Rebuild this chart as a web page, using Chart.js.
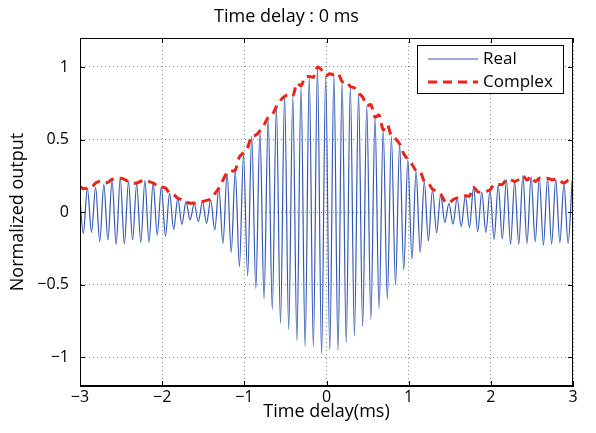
<!DOCTYPE html>
<html>
<head>
<meta charset="utf-8">
<script src="https://cdn.jsdelivr.net/npm/chart.js@4.4.1/dist/chart.umd.min.js"></script>
<style>
  html, body { margin: 0; padding: 0; background: #fff; }
</style>
</head>
<body>
<canvas id="myChart" width="596" height="433"></canvas>
<script>
const xTicks = [-3, -2, -1, 0, 1, 2, 3];
const yTicks = [-1, -0.5, 0, 0.5, 1];

// samples sit on every peak / trough of the carrier (half period 0.05 ms)
const tStart = -3.01;
const tStep = 0.05;

const realPeaks = [
  0.175, 0.163, 0.17, 0.19, 0.22, 0.232, 0.209, 0.193, 0.216, 0.202,
  0.175, 0.129, 0.094, 0.071, 0.06, 0.071, 0.083, 0.163, 0.267, 0.285,
  0.395, 0.524, 0.554, 0.653, 0.726, 0.795, 0.795, 0.869, 0.933, 1.0,
  0.938, 0.945, 0.899, 0.864, 0.818, 0.731, 0.653, 0.566, 0.52, 0.469,
  0.36, 0.28, 0.21, 0.155, 0.12, 0.06, 0.095, 0.11, 0.17, 0.135,
  0.15, 0.186, 0.221, 0.209, 0.25, 0.244, 0.232, 0.232, 0.225, 0.198,
  0.22
];
const realTroughs = [
  -0.147, -0.14, -0.205, -0.193, -0.223, -0.22, -0.193, -0.209, -0.209, -0.159,
  -0.166, -0.12, -0.085, -0.055, -0.067, -0.078, -0.124, -0.216, -0.278, -0.377,
  -0.441, -0.526, -0.6, -0.671, -0.768, -0.809, -0.887, -0.929, -0.929, -0.979,
  -0.952, -0.956, -0.901, -0.855, -0.791, -0.74, -0.667, -0.602, -0.503, -0.4,
  -0.326, -0.278, -0.198, -0.143, -0.071, -0.083, -0.101, -0.106, -0.136, -0.14,
  -0.188, -0.186, -0.221, -0.223, -0.216, -0.205, -0.228, -0.221, -0.212, -0.216
];
const complexEnv = [
  0.18, 0.16, 0.165, 0.17, 0.2, 0.21, 0.2, 0.205, 0.225, 0.23,
  0.232, 0.225, 0.21, 0.2, 0.2, 0.212, 0.218, 0.21, 0.2, 0.18,
  0.172, 0.165, 0.13, 0.12, 0.095, 0.085, 0.072, 0.06, 0.062, 0.068,
  0.072, 0.08, 0.09, 0.125, 0.165, 0.22, 0.27, 0.28, 0.29, 0.38,
  0.41, 0.445, 0.525, 0.53, 0.56, 0.6, 0.655, 0.672, 0.728, 0.77,
  0.797, 0.81, 0.8, 0.888, 0.87, 0.93, 0.935, 0.93, 1.0, 0.98,
  0.94, 0.953, 0.947, 0.957, 0.9, 0.902, 0.865, 0.856, 0.82, 0.792,
  0.733, 0.741, 0.655, 0.668, 0.568, 0.603, 0.522, 0.505, 0.47, 0.402,
  0.362, 0.33, 0.285, 0.28, 0.212, 0.2, 0.157, 0.145, 0.122, 0.075,
  0.062, 0.085, 0.097, 0.103, 0.112, 0.11, 0.17, 0.14, 0.137, 0.142,
  0.152, 0.19, 0.19, 0.19, 0.222, 0.223, 0.21, 0.225, 0.25, 0.22,
  0.245, 0.21, 0.233, 0.23, 0.233, 0.223, 0.226, 0.215, 0.2, 0.218,
  0.22
];

const FONT = "'Open Sans', 'Noto Sans', sans-serif";
const BLUE = "#3358b3";
const RED = "#ec2418";

// interleave peaks and troughs
const realPts = [];
for (let i = 0; i < realPeaks.length; i++) {
  realPts.push({ x: tStart + 2 * i * tStep, y: realPeaks[i] });
  if (i < realTroughs.length) realPts.push({ x: tStart + (2 * i + 1) * tStep, y: realTroughs[i] });
}
const envPts = complexEnv.map((v, i) => ({ x: tStart + i * tStep, y: v }));

const minus = (v) => String(v).replace("-", "\u2212");

const boxPlugin = {
  id: "box",
  afterDraw(chart) {
    const { ctx, chartArea: a, scales } = chart;
    ctx.save();
    ctx.strokeStyle = "#000";
    ctx.lineWidth = 1;
    ctx.strokeRect(Math.round(a.left) + 0.5, Math.round(a.top) + 0.5,
      Math.round(a.right - a.left) - 1, Math.round(a.bottom - a.top) - 1);
    ctx.beginPath();
    xTicks.forEach((v) => {
      const px = Math.round(scales.x.getPixelForValue(v)) + 0.5;
      ctx.moveTo(px, a.bottom); ctx.lineTo(px, a.bottom - 5);
      ctx.moveTo(px, a.top); ctx.lineTo(px, a.top + 5);
    });
    yTicks.forEach((v) => {
      const py = Math.round(scales.y.getPixelForValue(v)) + 0.5;
      ctx.moveTo(a.left, py); ctx.lineTo(a.left + 5, py);
      ctx.moveTo(a.right, py); ctx.lineTo(a.right - 5, py);
    });
    ctx.stroke();

    // legend in the upper right corner
    const bx = a.right - 10, by = a.top + 7, bw = 146, bh = 48;
    ctx.fillStyle = "#fff";
    ctx.fillRect(bx - bw, by, bw, bh);
    ctx.strokeRect(Math.round(bx - bw) + 0.5, Math.round(by) + 0.5, bw, bh);
    ctx.font = "17px " + FONT;
    ctx.textBaseline = "middle";
    const items = [chart.data.datasets[1], chart.data.datasets[0]];
    items.forEach((ds, i) => {
      const y = by + 14 + i * 23;
      ctx.save();
      ctx.strokeStyle = ds.borderColor;
      ctx.lineWidth = ds.borderWidth;
      ctx.setLineDash(ds.borderDash || []);
      ctx.beginPath();
      ctx.moveTo(bx - bw + 11, y);
      ctx.lineTo(bx - bw + 61, y);
      ctx.stroke();
      ctx.restore();
      ctx.fillStyle = "#000";
      ctx.fillText(ds.label, bx - bw + 66, y);
    });
    ctx.restore();
  }
};

new Chart(document.getElementById("myChart"), {
  type: "line",
  data: {
    datasets: [
      {
        label: "Complex",
        data: envPts,
        borderColor: RED,
        borderWidth: 3,
        borderDash: [9, 6],
        pointRadius: 0,
        tension: 0.3,
        order: 0,
      },
      {
        label: "Real",
        data: realPts,
        borderColor: BLUE,
        borderWidth: 1.2,
        pointRadius: 0,
        cubicInterpolationMode: "monotone",
        order: 1,
      },
    ],
  },
  options: {
    responsive: false,
    animation: false,
    layout: { padding: { left: 0, right: 23, top: 0, bottom: 0 } },
    plugins: {
      legend: { display: false },
      tooltip: { enabled: false },
      title: {
        display: true,
        text: "Time delay : 0 ms",
        color: "#000",
        font: { family: FONT, size: 18, weight: "normal" },
        padding: { top: 6, bottom: 10.4 },
      },
    },
    scales: {
      x: {
        type: "linear",
        min: -3,
        max: 3,
        afterBuildTicks: (s) => { s.ticks = xTicks.map((v) => ({ value: v })); },
        afterFit: (s) => { s.height = 47; },
        grid: { color: "#8c8c8c", drawTicks: false },
        border: { display: true, color: "#000", dash: [1, 3] },
        ticks: {
          color: "#000",
          padding: 2,
          maxRotation: 0,
          font: { family: FONT, size: 16 },
          callback: minus,
        },
        title: {
          display: true,
          text: "Time delay(ms)",
          color: "#000",
          font: { family: FONT, size: 18 },
          padding: { top: 0, bottom: 10 },
        },
      },
      y: {
        min: -1.2,
        max: 1.2,
        afterBuildTicks: (s) => { s.ticks = yTicks.map((v) => ({ value: v })); },
        afterFit: (s) => { s.width = 80; },
        grid: { color: "#8c8c8c", drawTicks: false },
        border: { display: true, color: "#000", dash: [1, 3] },
        ticks: {
          color: "#000",
          padding: 11,
          font: { family: FONT, size: 16 },
          callback: minus,
        },
        title: {
          display: true,
          text: "Normalized output",
          color: "#000",
          font: { family: FONT, size: 18 },
          padding: { top: 7, bottom: 0 },
        },
      },
    },
  },
  plugins: [boxPlugin],
});
</script>
</body>
</html>
